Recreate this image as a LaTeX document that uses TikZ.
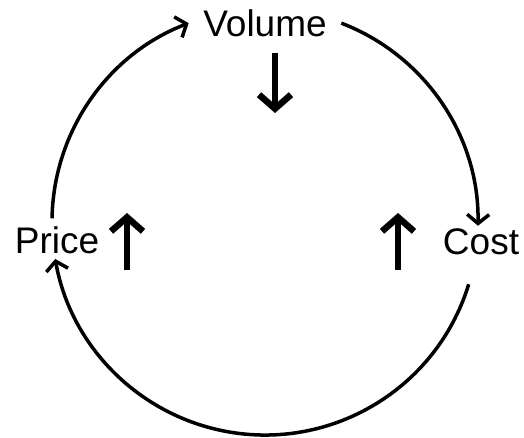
\documentclass[tikz,border=0pt]{standalone}
\usepackage{fontspec}
\setmainfont{Liberation Sans}
\usetikzlibrary{arrows.meta}
\tikzset{
  lbl/.style={font=\fontsize{37}{40}\selectfont, anchor=base, inner sep=0pt},
  cyc/.style={line width=3.5pt, line join=round, -{Straight Barb[length=9pt,width=22pt]}},
  trend/.style={line width=6.5pt, line join=round, -{Straight Barb[length=14pt,width=32pt]}}
}
\begin{document}
\begin{tikzpicture}[x=1pt,y=1pt]
\useasboundingbox (0,0) rectangle (524,437);
\coordinate (c) at (265,215);
\node[lbl] (volume) at (265,400) {Volume};
\node[lbl] (price) at (57,184) {Price};
\node[lbl] (cost) at (481,183) {Cost};
% the loop
\draw[cyc] ([shift={(179:213)}]c) arc[start angle=179, end angle=111, radius=213];
\draw[cyc] ([shift={(69:213)}]c) arc[start angle=69, end angle=-1, radius=213];
\draw[cyc] ([shift={(-17:213)}]c) arc[start angle=-17, end angle=-170, radius=213];
% up and down
\coordinate (v1) at (275,384);
\coordinate (v2) at (275,324);
\coordinate (p1) at (127,167);
\coordinate (p2) at (127,224);
\coordinate (k1) at (398,167);
\coordinate (k2) at (398,224);
\draw[trend] (v1) -- (v2);
\draw[trend] (p1) -- (p2);
\draw[trend] (k1) -- (k2);
\end{tikzpicture}
\end{document}
